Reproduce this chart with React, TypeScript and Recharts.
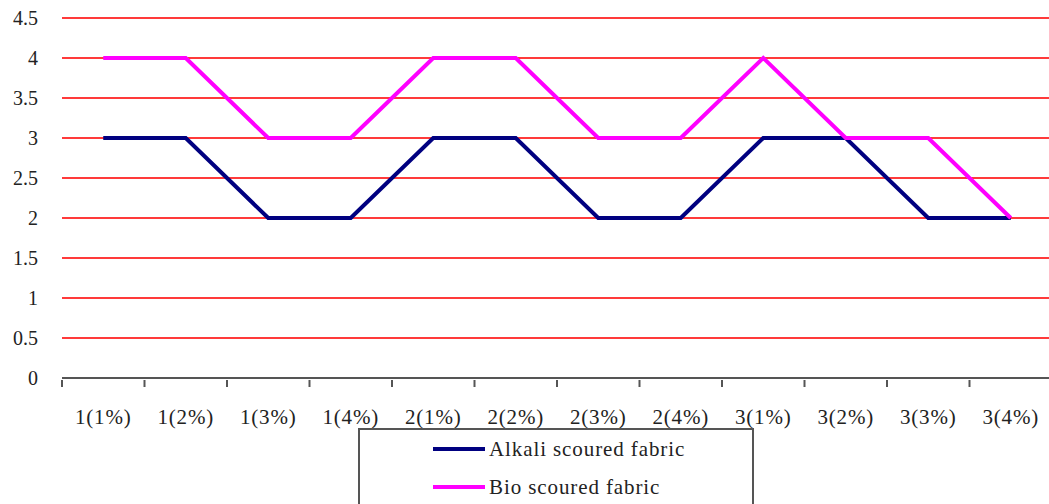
import { CartesianGrid, Line, LineChart, XAxis, YAxis } from "recharts";

const categories = [
  "1(1%)", "1(2%)", "1(3%)", "1(4%)",
  "2(1%)", "2(2%)", "2(3%)", "2(4%)",
  "3(1%)", "3(2%)", "3(3%)", "3(4%)",
];
const alkaliScoured = [3, 3, 2, 2, 3, 3, 2, 2, 3, 3, 2, 2];
const bioScoured = [4, 4, 3, 3, 4, 4, 3, 3, 4, 3, 3, 2];
const yTicks = [0, 0.5, 1, 1.5, 2, 2.5, 3, 3.5, 4, 4.5];

const seriesNames = ["Alkali scoured fabric", "Bio scoured fabric"];
const seriesColors = ["#000080", "#ff00ff"];

// each category sits in the middle of its slot on a 0..12 axis
const data = categories.map((label, i) => ({
  pos: i + 0.5,
  label,
  alkali: alkaliScoured[i],
  bio: bioScoured[i],
}));

// integer ticks are the slot edges (tick marks), half ticks carry the labels
const xTicks: number[] = [];
for (let i = 0; i <= categories.length * 2; i++) xTicks.push(i / 2);

const FONT = "Liberation Serif, Times New Roman, serif";

function SlotTick(props: any) {
  const { x, y, payload } = props;
  const v = payload.value as number;
  if (Number.isInteger(v)) {
    return <line x1={x} x2={x} y1={y} y2={y + 7} stroke="#555" strokeWidth={2} />;
  }
  return (
    <text
      x={x}
      y={y + 44}
      textAnchor="middle"
      fontFamily={FONT}
      fontSize={21}
      letterSpacing={0.8}
      fill="#222"
    >
      {categories[Math.floor(v)]}
    </text>
  );
}

export default function App() {
  return (
    <div
      style={{
        position: "absolute",
        left: 0,
        top: 0,
        width: 1049,
        height: 504,
        overflow: "hidden",
        background: "#fff",
      }}
    >
      <LineChart width={1049} height={504} data={data} margin={{ top: 18, right: -3, left: 0, bottom: 0 }}>
        <CartesianGrid vertical={false} stroke="#ff3a3a" strokeWidth={2} />
        <XAxis
          dataKey="pos"
          type="number"
          domain={[0, 12]}
          ticks={xTicks}
          interval={0}
          height={126}
          tickSize={0}
          tickLine={false}
          axisLine={{ stroke: "#555", strokeWidth: 2 }}
          tick={<SlotTick />}
        />
        <YAxis
          domain={[0, 4.5]}
          ticks={yTicks}
          width={62}
          axisLine={false}
          tickLine={false}
          tickSize={0}
          tickMargin={24}
          tick={{ fill: "#222", fontSize: 20, fontFamily: FONT }}
        />
        <Line
          dataKey="alkali"
          name={seriesNames[0]}
          stroke={seriesColors[0]}
          strokeWidth={4}
          dot={false}
          isAnimationActive={false}
        />
        <Line
          dataKey="bio"
          name={seriesNames[1]}
          stroke={seriesColors[1]}
          strokeWidth={4}
          dot={false}
          isAnimationActive={false}
        />
      </LineChart>
      <div
        style={{
          position: "absolute",
          left: 358,
          top: 428,
          width: 392,
          height: 90,
          border: "2px solid #555",
          background: "#fff",
          fontFamily: FONT,
          fontSize: 21,
          color: "#222",
        }}
      >
        {seriesNames.map((name, i) => (
          <div
            key={name}
            style={{
              position: "absolute",
              left: 73,
              top: 6 + i * 38,
              height: 26,
              display: "flex",
              alignItems: "center",
              whiteSpace: "nowrap",
            }}
          >
            <span
              style={{
                display: "inline-block",
                width: 52,
                height: 4,
                background: seriesColors[i],
                marginRight: 4,
              }}
            />
            <span style={{ letterSpacing: 0.9 }}>{name}</span>
          </div>
        ))}
      </div>
    </div>
  );
}
